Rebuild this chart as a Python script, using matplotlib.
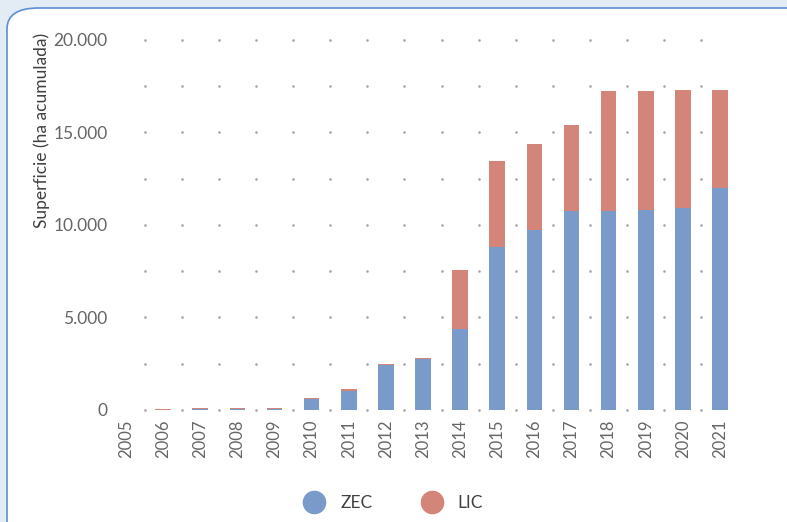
import matplotlib.pyplot as plt
from matplotlib.patches import FancyBboxPatch
from matplotlib.lines import Line2D
from matplotlib.ticker import FuncFormatter

plt.rcParams['font.family'] = ['Lato', 'DejaVu Sans']

years = ['2005', '2006', '2007', '2008', '2009', '2010', '2011', '2012', '2013',
         '2014', '2015', '2016', '2017', '2018', '2019', '2020', '2021']
zec = [10, 10, 50, 50, 60, 600, 1040, 2430, 2760,
       4360, 8810, 9710, 10760, 10760, 10810, 10940, 12000]
lic = [0, 50, 50, 50, 60, 60, 80, 70, 70,
       3210, 4650, 4670, 4630, 6480, 6440, 6360, 5300]

c_zec = '#7a9bc9'
c_lic = '#d4857a'

fig = plt.figure(figsize=(7.87, 5.22), dpi=100)
fig.patch.set_facecolor('#e3ebf5')

# panel blanco con borde azul
panel = FancyBboxPatch((7 / 787, -0.1), 1.2, 1 - 8 / 522 + 0.1,
                       boxstyle='round,pad=0,rounding_size=0.04',
                       transform=fig.transFigure, facecolor='white',
                       edgecolor='#5b8fd2', linewidth=1.2, zorder=-1)
fig.patches.append(panel)

ax = fig.add_axes([113 / 787, 0.2146, 620 / 787, 0.7088])
ax.set_zorder(2)
ax.set_facecolor('none')
x = list(range(len(years)))

ax.bar(x, zec, width=0.42, color=c_zec, zorder=3)
ax.bar(x, lic, width=0.42, bottom=zec, color=c_lic, zorder=3)

# rejilla de puntos entre barras
for i in range(len(years) - 1):
    for v in range(0, 20001, 2500):
        ax.plot(i + 0.5, v, marker='.', markersize=1.8, color='#a8a8a8',
                clip_on=False, zorder=1)

ax.set_xlim(-0.35, len(years) - 0.65)
ax.set_ylim(0, 20000)
ax.set_yticks(range(0, 20001, 5000))
ax.yaxis.set_major_formatter(FuncFormatter(lambda v, p: f'{int(v):,}'.replace(',', '.')))
ax.set_xticks(x)
ax.set_xticklabels(years, rotation=90)
ax.tick_params(axis='both', length=0, labelsize=12.5, labelcolor='#666666', pad=4)
ax.tick_params(axis='x', labelsize=12, pad=7)
for s in ax.spines.values():
    s.set_visible(False)

fig.text(42 / 787, 1 - 130 / 522, 'Superficie (ha acumulada)', rotation=90,
         ha='center', va='center', fontsize=12.5, color='#404040')

handles = [Line2D([], [], marker='o', linestyle='none', markersize=16, color=c_zec),
           Line2D([], [], marker='o', linestyle='none', markersize=16, color=c_lic)]
fig.legend(handles, ['ZEC', 'LIC'], loc='center', bbox_to_anchor=(390 / 787, 1 - 503 / 522),
           ncol=2, frameon=False, fontsize=12.5, labelcolor='#404040',
           handletextpad=0.5, columnspacing=2.4)

plt.savefig('out.png', dpi=100)
